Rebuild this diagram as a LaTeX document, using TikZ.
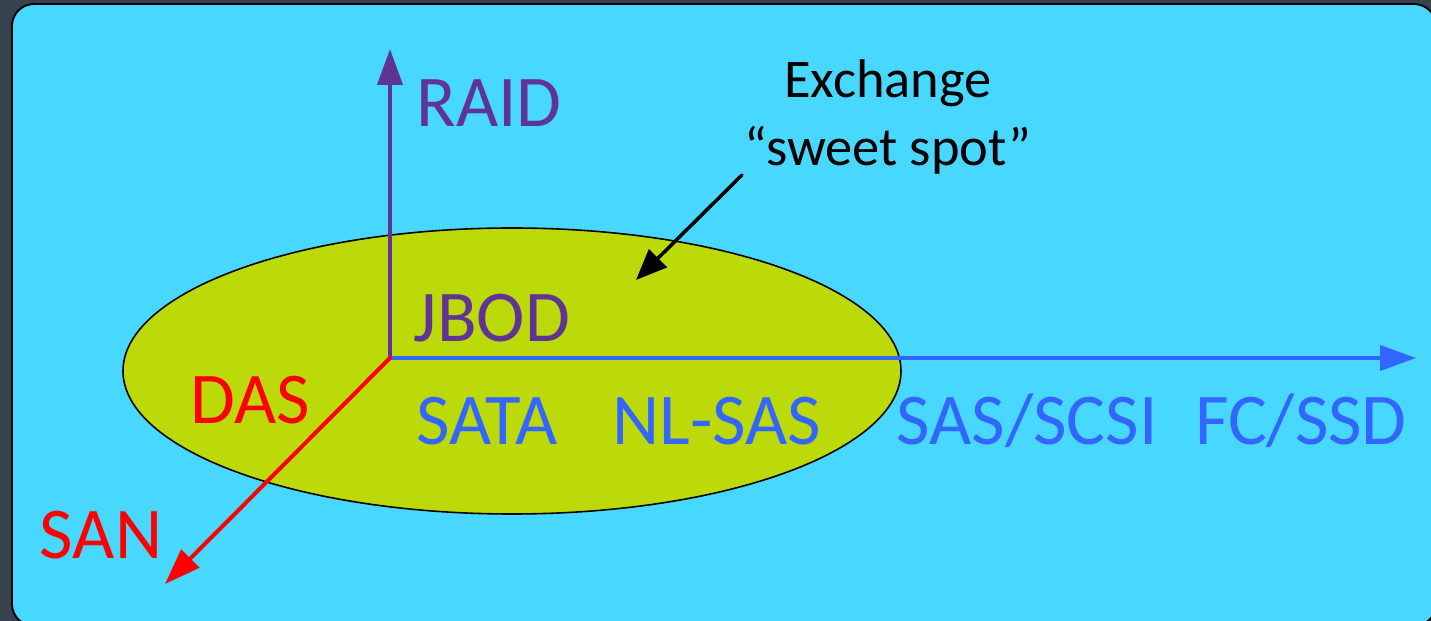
\documentclass[tikz,border=0pt]{standalone}
\usepackage{fontspec}
\setmainfont{Carlito}
\usetikzlibrary{arrows.meta}
\definecolor{slate}{RGB}{55,66,79}
\definecolor{skyfill}{RGB}{72,216,255}
\definecolor{limefill}{RGB}{188,217,10}
\definecolor{raidpurple}{RGB}{95,52,148}
\definecolor{diskblue}{RGB}{51,102,255}
\begin{document}
\begin{tikzpicture}[x=0.02cm,y=-0.02cm,line join=round,line cap=round,thick]
			\tikzset{axis/.style={line width=2.3pt,-{Triangle[length=0.72cm,width=0.5cm]}},
				big/.style={font=\fontsize{41.5}{50}\selectfont},
				note/.style={font=\fontsize{31}{37}\selectfont}}
			\fill[slate] (0,0) rectangle (1431,621);
			\useasboundingbox (0,0) rectangle (1431,621);
			\draw[fill=skyfill,line width=1.1pt,rounded corners=0.44cm] (12,4) rectangle (1436,626);
			\draw[fill=limefill,line width=0.9pt] (512,371) ellipse [x radius=389,y radius=143];
			\coordinate (O) at (390,358);
			\coordinate (raidtip) at (390,49);
			\coordinate (disktip) at (1416,358);
			\coordinate (santip) at (165,584);
			\draw[axis,raidpurple] (O)--(raidtip);
			\draw[axis,diskblue] (O)--(disktip);
			\draw[axis,red] (O)--(santip);
			\node[big,text=raidpurple] (raid) at (489,103) {RAID};
			\node[big,text=raidpurple] (jbod) at (492,318) {JBOD};
			\node[big,text=red] (das) at (250,400) {DAS};
			\node[big,text=red] (san) at (101,535) {SAN};
			\foreach \x/\lbl/\nm in {487/SATA/sata,717/NL-SAS/nlsas,1027/SAS\slash SCSI/sasscsi,1301/FC\slash SSD/fcssd}
			\node[big,text=diskblue] (\nm) at (\x,421) {\lbl};
			\node[note] (exch) at (888,83) {Exchange};
			\node[note] (sweet) at (888,150) {“sweet spot”};
			\coordinate (spot) at (636,280);
			\draw[line width=2pt,-{Triangle[length=0.62cm,width=0.5cm]}] (742,175)--(spot);
		\end{tikzpicture}
\end{document}
